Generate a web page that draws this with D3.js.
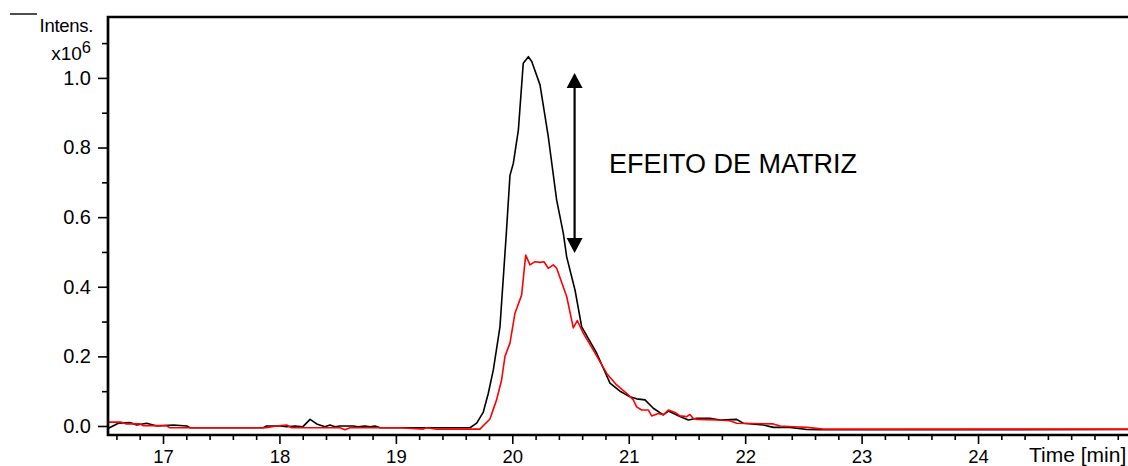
<!DOCTYPE html>
<html>
<head>
<meta charset="utf-8">
<script src="https://cdn.jsdelivr.net/npm/d3@7/dist/d3.min.js"></script>
<style>
  html, body { margin: 0; padding: 0; background: #fff; overflow: hidden; }
  svg { display: block; font-family: "Liberation Sans", Arial, sans-serif; }
</style>
</head>
<body>
<svg id="chart" width="1128" height="466"></svg>
<script>
// Extracted ion chromatogram: standard in solvent (black) vs. in matrix (red)
const blackTimes = [16.528, 16.616, 16.717, 16.774, 16.860, 16.946, 17.088, 17.204, 17.232, 17.861, 17.891, 18.005, 18.062, 18.134, 18.202, 18.263, 18.320, 18.391, 18.434, 18.477, 18.520, 18.634, 18.675, 18.735, 18.778, 18.821, 18.864, 19.637, 19.694, 19.751, 19.794, 19.837, 19.894, 19.947, 19.980, 20.009, 20.052, 20.094, 20.138, 20.167, 20.238, 20.309, 20.381, 20.438, 20.467, 20.539, 20.596, 20.725, 20.839, 20.925, 21.011, 21.068, 21.140, 21.211, 21.297, 21.340, 21.440, 21.512, 21.584, 21.698, 21.784, 21.927, 21.984, 22.156, 22.242, 22.385, 22.529, 22.641, 25.288];
const blackValues = [-0.007, 0.008, 0.010, 0.003, 0.008, 0.000, 0.003, 0.000, -0.005, -0.005, 0.000, 0.000, -0.002, 0.000, -0.002, 0.019, 0.006, -0.002, 0.003, -0.002, 0.000, 0.000, -0.002, 0.000, -0.002, 0.000, -0.005, -0.005, 0.008, 0.040, 0.094, 0.161, 0.285, 0.545, 0.720, 0.755, 0.850, 1.042, 1.061, 1.047, 0.980, 0.831, 0.649, 0.554, 0.486, 0.390, 0.285, 0.209, 0.123, 0.100, 0.084, 0.078, 0.075, 0.051, 0.032, 0.043, 0.027, 0.017, 0.022, 0.022, 0.017, 0.019, 0.008, 0.003, -0.004, -0.004, -0.010, -0.011, -0.010];

const redTimes = [16.528, 16.643, 16.686, 16.800, 16.828, 17.029, 17.057, 17.889, 17.976, 18.062, 18.105, 18.520, 18.563, 18.606, 19.035, 19.235, 19.265, 19.351, 19.722, 19.808, 19.865, 19.908, 19.937, 19.980, 20.023, 20.080, 20.115, 20.152, 20.195, 20.238, 20.272, 20.309, 20.352, 20.381, 20.467, 20.524, 20.558, 20.610, 20.696, 20.753, 20.811, 20.896, 20.982, 21.039, 21.068, 21.111, 21.168, 21.197, 21.254, 21.297, 21.340, 21.398, 21.440, 21.498, 21.526, 21.552, 21.584, 21.756, 21.870, 21.927, 22.242, 22.299, 22.414, 22.529, 22.671, 25.288];
const redValues = [0.011, 0.011, 0.006, 0.006, 0.001, 0.001, -0.005, -0.005, 0.000, 0.003, -0.005, -0.005, -0.011, -0.005, -0.005, -0.009, -0.005, -0.009, -0.009, 0.020, 0.075, 0.132, 0.200, 0.238, 0.324, 0.376, 0.491, 0.463, 0.472, 0.470, 0.472, 0.453, 0.463, 0.453, 0.372, 0.282, 0.303, 0.266, 0.218, 0.185, 0.151, 0.118, 0.094, 0.075, 0.055, 0.046, 0.046, 0.029, 0.036, 0.032, 0.046, 0.039, 0.029, 0.027, 0.033, 0.022, 0.019, 0.017, 0.015, 0.008, 0.006, 0.000, -0.002, -0.004, -0.009, -0.009];

const xMajorTicks = [17, 18, 19, 20, 21, 22, 23, 24];
const yMajorTicks = [0.0, 0.2, 0.4, 0.6, 0.8, 1.0];
const yMinorTicks = [0.1, 0.3, 0.5, 0.7, 0.9, 1.1];
const xMinorTicks = d3.range(16.6, 25.29, 0.2).map(v => +v.toFixed(1)).filter(v => !xMajorTicks.includes(v));

const svg = d3.select("#chart");
const plotLeft = 108, plotRight = 1128, plotTop = 17, plotBottom = 435;

const x = d3.scaleLinear().domain([16.5276, 25.288]).range([plotLeft, plotRight]);
const y = d3.scaleLinear().domain([-0.0259, 1.175]).range([plotBottom, plotTop]);

// Traces
const line = d3.line().x(d => x(d[0])).y(d => y(d[1]));
const blackData = blackTimes.map((t, i) => [t, blackValues[i]]);
const redData = redTimes.map((t, i) => [t, redValues[i]]);

svg.append("path").datum(blackData)
  .attr("d", line).attr("fill", "none")
  .attr("stroke", "#000").attr("stroke-width", 1.6).attr("stroke-linejoin", "round");
svg.append("path").datum(redData)
  .attr("d", line).attr("fill", "none")
  .attr("stroke", "#ff0000").attr("stroke-width", 1.6).attr("stroke-linejoin", "round");

// Axes
const yAxis = d3.axisLeft(y).tickValues(yMajorTicks).tickSize(10).tickSizeOuter(0)
  .tickPadding(7).tickFormat(d3.format(".1f"));
const yAxisMinor = d3.axisLeft(y).tickValues(yMinorTicks).tickSize(6).tickFormat("");
const xAxis = d3.axisBottom(x).tickValues(xMajorTicks).tickSize(9).tickSizeOuter(0)
  .tickPadding(6).tickFormat(d3.format("d"));
const xAxisMinor = d3.axisBottom(x).tickValues(xMinorTicks).tickSize(5).tickFormat("");

function styleAxis(g, fontSize) {
  g.select(".domain").remove();
  g.selectAll(".tick line").attr("stroke", "#000").attr("stroke-width", 1.6);
  g.selectAll(".tick text").attr("fill", "#000")
    .style("font-size", fontSize + "px")
    .style("font-family", "'Liberation Sans', Arial, sans-serif");
}

svg.append("g").attr("transform", `translate(${plotLeft},0)`).call(yAxis).call(g => styleAxis(g, 20));
svg.append("g").attr("transform", `translate(${plotLeft},0)`).call(yAxisMinor).call(g => styleAxis(g, 20));
svg.append("g").attr("transform", `translate(0,${plotBottom})`).call(xAxis).call(g => styleAxis(g, 18.5));
svg.append("g").attr("transform", `translate(0,${plotBottom})`).call(xAxisMinor).call(g => styleAxis(g, 18.5));

// Frame: left axis, top rule, bottom axis
const frame = d3.path();
frame.moveTo(plotRight, plotTop);
frame.lineTo(plotLeft, plotTop);
frame.lineTo(plotLeft, plotBottom);
frame.lineTo(plotRight, plotBottom);
svg.append("path").attr("d", frame.toString())
  .attr("fill", "none").attr("stroke", "#000").attr("stroke-width", 2.7);

// Axis titles
svg.append("line").attr("x1", 10).attr("x2", 37).attr("y1", 14).attr("y2", 14)
  .attr("stroke", "#000").attr("stroke-width", 1.4);
svg.append("text").attr("x", 93).attr("y", 32).attr("text-anchor", "end")
  .style("font-size", "18.5px").attr("letter-spacing", "-0.3").text("Intens.");
const expo = svg.append("text").attr("x", 91).attr("y", 60).attr("text-anchor", "end")
  .style("font-size", "19px");
expo.append("tspan").text("x10");
expo.append("tspan").attr("dy", -7).style("font-size", "16.5px").text("6");

svg.append("text").attr("x", 1029).attr("y", 462)
  .style("font-size", "21px").text("Time [min]");

// Annotation: matrix effect arrow
const arrowX = x(20.535);
const arrowTop = y(1.014), arrowBottom = y(0.497);
const head = 15, halfW = 8;
svg.append("line").attr("x1", arrowX).attr("x2", arrowX)
  .attr("y1", arrowTop + head - 1).attr("y2", arrowBottom - head + 1)
  .attr("stroke", "#000").attr("stroke-width", 2.2);
svg.append("path")
  .attr("d", `M${arrowX},${arrowTop} L${arrowX - halfW},${arrowTop + head} L${arrowX + halfW},${arrowTop + head} Z`)
  .attr("fill", "#000");
svg.append("path")
  .attr("d", `M${arrowX},${arrowBottom} L${arrowX - halfW},${arrowBottom - head} L${arrowX + halfW},${arrowBottom - head} Z`)
  .attr("fill", "#000");
svg.append("text").attr("x", 609).attr("y", 173)
  .style("font-size", "27px").text("EFEITO DE MATRIZ");
</script>
</body>
</html>
